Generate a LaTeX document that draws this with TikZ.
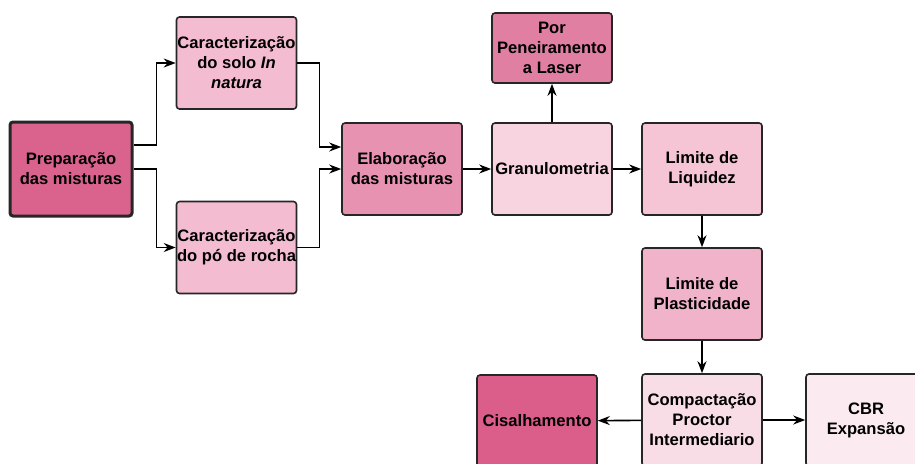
\documentclass[tikz,border=0pt]{standalone}
\usepackage{fontspec}
\setmainfont{Liberation Sans}
\usetikzlibrary{arrows.meta}

\definecolor{prepfill}{HTML}{D9638D}
\definecolor{charfill}{HTML}{F4BCD0}
\definecolor{elabfill}{HTML}{E892B1}
\definecolor{granfill}{HTML}{F8D4E1}
\definecolor{laserfill}{HTML}{E07FA2}
\definecolor{liqfill}{HTML}{F5C5D6}
\definecolor{plastfill}{HTML}{F1B3C9}
\definecolor{compfill}{HTML}{F8DCE6}
\definecolor{cisfill}{HTML}{DB5D89}
\definecolor{cbrfill}{HTML}{FBEBF1}

\begin{document}
\begin{tikzpicture}[x=0.5pt, y=-0.5pt, line width=0.8pt,
          stage/.style={draw=black!85, rounded corners=1.5pt,
            minimum width=60pt, minimum height=46pt, inner xsep=0pt,
            align=center, font=\bfseries\fontsize{8.3}{10}\selectfont},
          flow/.style={-{Stealth[length=6pt, width=4.5pt]}},
        ]
          \useasboundingbox (0,0) rectangle (915,463);
          \clip (0,0) rectangle (915,463);
          \node[stage, fill=prepfill, line width=1.5pt, minimum width=61pt, minimum height=47pt] (prep) at (71,169) {Preparação\\das misturas};
          \node[stage, fill=charfill]  (solo)  at (236.5,63)  {Caracterização\\do solo \textit{In}\\\textit{natura}};
          \node[stage, fill=charfill]  (po)    at (236.5,247.5) {Caracterização\\do pó de rocha};
          \node[stage, fill=elabfill]  (elab)  at (402,169)   {Elaboração\\das misturas};
          \node[stage, fill=granfill]  (gran)  at (552,169)   {Granulometria};
          \node[stage, fill=laserfill, minimum height=35pt] (laser) at (552,48) {Por\\Peneiramento\\a Laser};
          \node[stage, fill=liqfill]   (liq)   at (702,169)   {Limite de\\Liquidez};
          \node[stage, fill=plastfill] (plast) at (702,294)   {Limite de\\Plasticidade};
          \node[stage, fill=compfill]  (comp)  at (702,420)   {Compactação\\Proctor\\Intermediario};
          \node[stage, fill=cisfill]   (cis)   at (537,421)   {Cisalhamento};
          \node[stage, fill=cbrfill]   (cbr)   at (866,420)   {CBR\\Expansão};
          \draw[flow] ([yshift=12pt]prep.east) -- ++(11.5pt,0) |- (solo.west);
          \draw[flow] (prep.east) -- ++(11.5pt,0) |- (po.west);
          \draw[flow] (solo.east) -- ++(11pt,0) |- ([yshift=11pt]elab.west);
          \draw[flow] (po.east) -- ++(11pt,0) |- (elab.west);
          \draw[flow] (elab) -- (gran);
          \draw[flow] (gran) -- (laser);
          \draw[flow] (gran) -- (liq);
          \draw[flow] (liq) -- (plast);
          \draw[flow] (plast) -- (comp);
          \draw[flow] (comp) -- (cis);
          \draw[flow] (comp) -- (cbr);
        \end{tikzpicture}
\end{document}
